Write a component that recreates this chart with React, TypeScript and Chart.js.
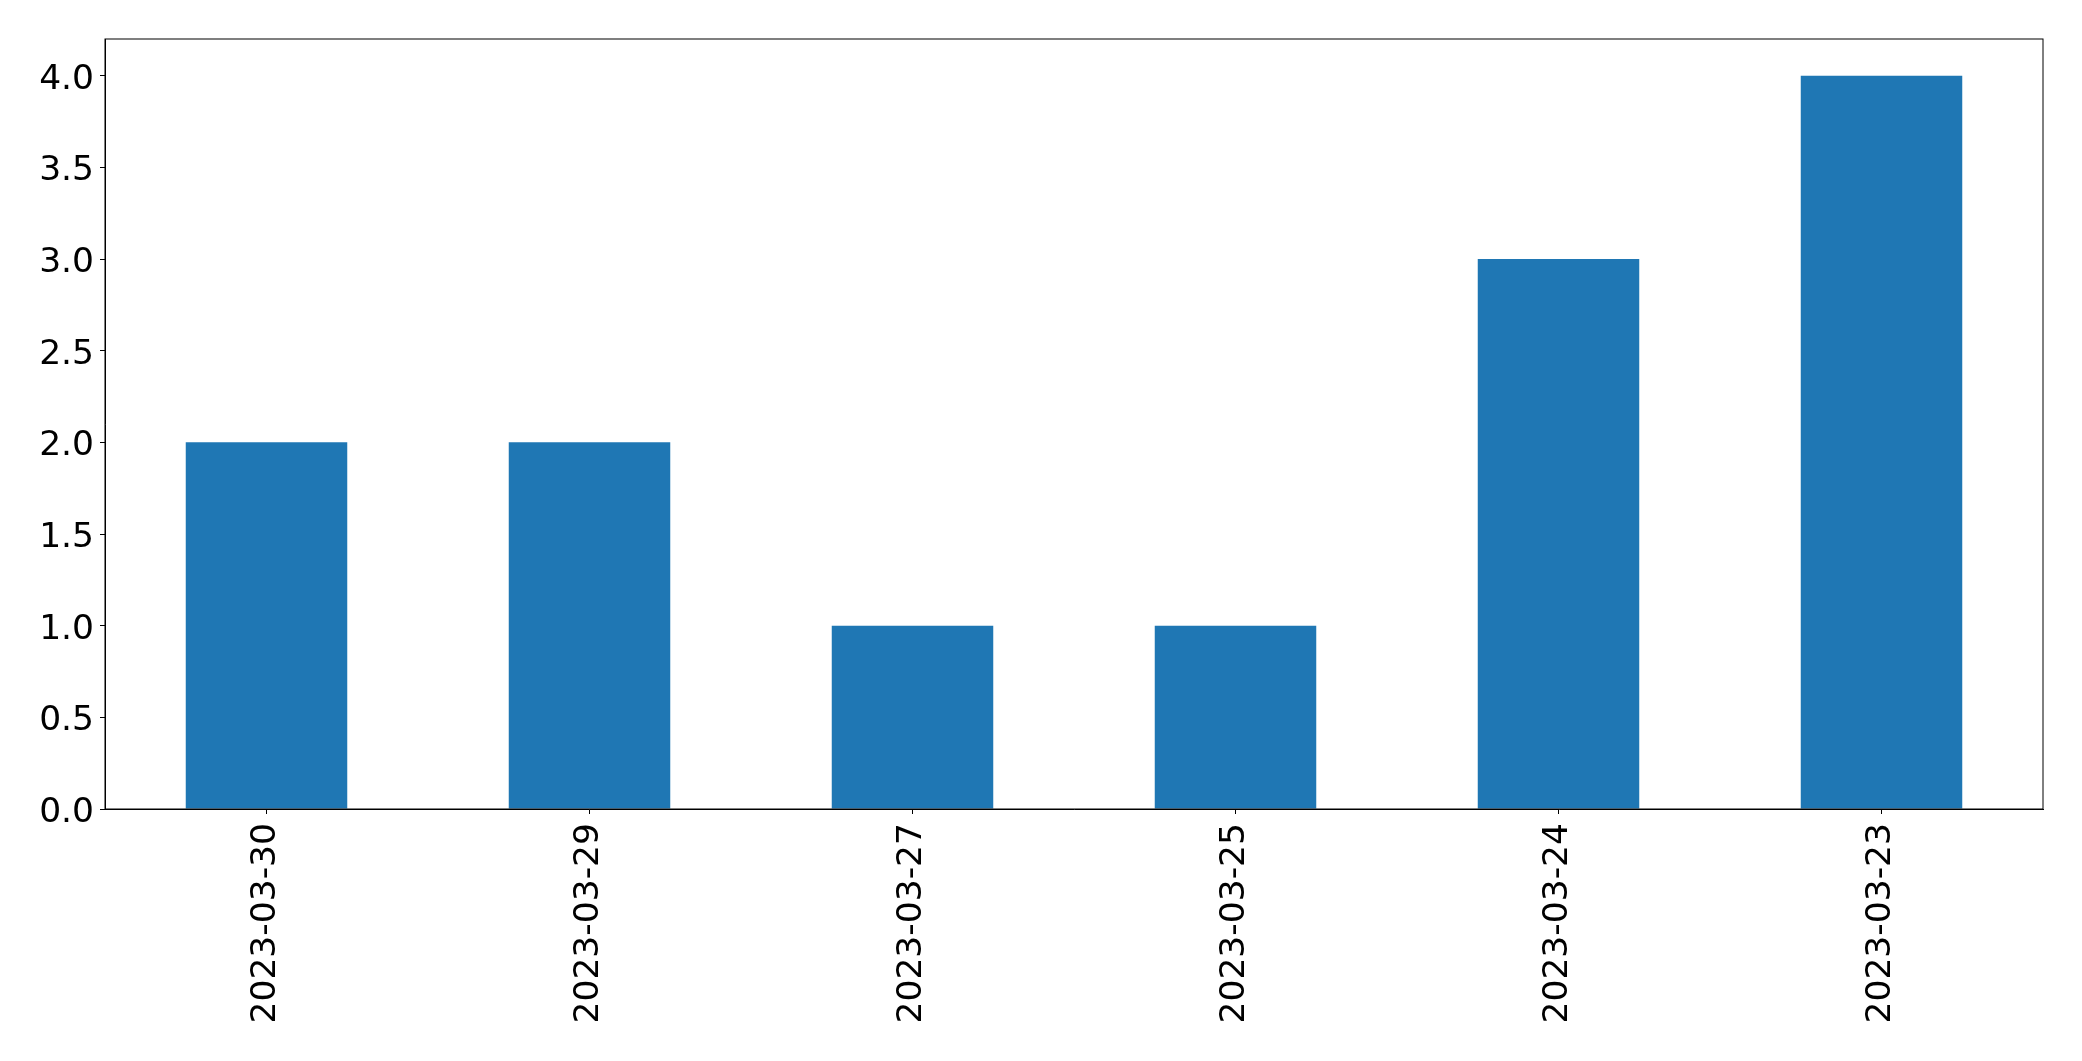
import React, { useEffect, useRef } from "react";
import { Chart, registerables } from "chart.js";

Chart.register(...registerables);

const categories = ["2023-03-30", "2023-03-29", "2023-03-27", "2023-03-25", "2023-03-24", "2023-03-23"];
const counts = [2, 2, 1, 1, 3, 4];
const yTicks = [0, 0.5, 1.0, 1.5, 2.0, 2.5, 3.0, 3.5, 4.0];
const yMax = 4.2;

const W = 2082;
const H = 1061;

const frame = {
  id: "frame",
  afterDraw(chart: any) {
    const { ctx, chartArea } = chart;
    ctx.save();
    ctx.strokeStyle = "#000";
    ctx.lineWidth = 1;
    ctx.strokeRect(chartArea.left, chartArea.top, chartArea.right - chartArea.left, chartArea.bottom - chartArea.top);
    ctx.restore();
  },
};

export default function App() {
  const ref = useRef<HTMLCanvasElement>(null);
  useEffect(() => {
    if (!ref.current) return;
    const font = { family: "'DejaVu Sans', sans-serif", size: 34.5 };
    const chart = new Chart(ref.current, {
      type: "bar",
      data: {
        labels: categories,
        datasets: [
          {
            data: counts,
            backgroundColor: "#1f77b4",
            borderWidth: 0,
            categoryPercentage: 1,
            barPercentage: 0.5,
          },
        ],
      },
      options: {
        responsive: false,
        animation: false,
        devicePixelRatio: 1,
        layout: { padding: { top: 39, right: 39, left: 0, bottom: 0 } },
        plugins: { legend: { display: false }, tooltip: { enabled: false } },
        scales: {
          x: {
            offset: true,
            grid: { offset: false, drawOnChartArea: false, drawTicks: true, tickLength: 5, color: "#000", tickWidth: 1 },
            border: { display: true, color: "#000", width: 1 },
            ticks: { color: "#000", font, minRotation: 90, maxRotation: 90, padding: 9, autoSkip: false },
            afterFit(scale: any) {
              scale.height = H - 809;
            },
          },
          y: {
            min: 0,
            max: yMax,
            grid: { drawOnChartArea: false, drawTicks: true, tickLength: 5, color: "#000", tickWidth: 1 },
            border: { display: true, color: "#000", width: 1 },
            ticks: {
              color: "#000",
              font,
              padding: 6,
              labelOffset: 4,
              includeBounds: false,
              callback: (v: any) => Number(v).toFixed(1),
            },
            afterBuildTicks(scale: any) {
              scale.ticks = yTicks.map((v) => ({ value: v }));
            },
            afterFit(scale: any) {
              scale.width = 105;
            },
          },
        },
      },
      plugins: [frame],
    });
    return () => chart.destroy();
  }, []);
  return (
    <div style={{ position: "absolute", left: 0, top: 0, width: W, height: H, background: "#fff" }}>
      <canvas ref={ref} width={W} height={H} style={{ width: W, height: H, display: "block" }} />
    </div>
  );
}
